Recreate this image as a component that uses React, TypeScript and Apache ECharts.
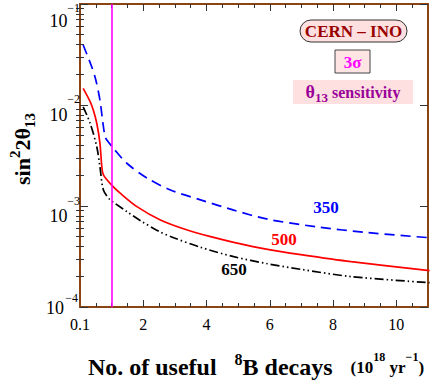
import React, { useEffect, useRef } from "react";
import * as echarts from "echarts";

// ---------- data ----------
const xMajorTicks = [2, 4, 6, 8, 10];
const xLabelValues = [0, 2, 4, 6, 8, 10];
const xFirstLabelText = "0.1";
const xMinorTicks = [0.5, 1, 1.5, 2.5, 3, 3.5, 4.5, 5, 5.5, 6.5, 7, 7.5, 8.5, 9, 9.5, 10.5];

const yLabelValues = [1e-4, 1e-3, 1e-2, 1e-1];
const yLabelBase = "10";
const yLabelExponents = ["−4", "−3", "−2", "−1"];
const yMinorTicks = [
  2e-4, 3e-4, 4e-4, 5e-4, 6e-4, 7e-4, 8e-4, 9e-4,
  2e-3, 3e-3, 4e-3, 5e-3, 6e-3, 7e-3, 8e-3, 9e-3,
  2e-2, 3e-2, 4e-2, 5e-2, 6e-2, 7e-2, 8e-2, 9e-2,
];

const magentaX = 1;

const x350 = [0.1, 0.37, 0.5, 0.63, 0.72, 0.79, 0.85, 1.06, 1.48, 2.12, 2.86, 3.81, 4.86, 5.93, 7.51, 9.1, 11.05];
const y350 = [0.0393, 0.0239, 0.0177, 0.0112, 0.0068, 0.0049, 0.0045, 0.00372, 0.00265, 0.00189, 0.00144, 0.00115, 0.00091, 0.00074, 0.00062, 0.000545, 0.000485];

const x500 = [0.1, 0.32, 0.42, 0.53, 0.63, 0.69, 0.74, 1.0, 1.27, 1.8, 2.54, 3.39, 4.13, 4.86, 5.93, 6.98, 8.57, 11.05];
const y500 = [0.0146, 0.0108, 0.0089, 0.0066, 0.0042, 0.00245, 0.00203, 0.00161, 0.00134, 0.000985, 0.000727, 0.000578, 0.000497, 0.000437, 0.000372, 0.00033, 0.000281, 0.000229];

const x650 = [0.1, 0.32, 0.53, 0.63, 0.74, 0.95, 1.11, 1.48, 1.9, 2.5, 2.96, 3.81, 4.86, 5.93, 6.98, 8.57, 11.05];
const y650 = [0.0096, 0.0066, 0.00386, 0.00245, 0.00144, 0.00115, 0.00106, 0.00088, 0.00072, 0.00056, 0.000485, 0.00039, 0.000315, 0.000268, 0.000236, 0.0002, 0.000174];

const curveNames = ["350", "500", "650"];
const curveColors = ["#0000FF", "#FF0000", "#000000"];

// ---------- styles ----------
const SERIF = "'Liberation Serif', 'DejaVu Serif', serif";
const BROWN = "#8B4513";
const TICK = "#333333";
// placement of the "10" and the exponent relative to each tick (bottom..top)
const tenX = [64, 67.5, 67.5, 67.5];
const expX = [78, 80, 80, 80];
const tenShift = [0.5, 9.5, 9.5, 17];
const expShift = [-9.5, -5.5, -6, 3.5];

function zip(xs: number[], ys: number[]) {
  return xs.map((x, i) => [x, ys[i]]);
}

export default function App() {
  const ref = useRef<HTMLDivElement>(null);
  useEffect(() => {
    if (!ref.current) return;
    const chart = echarts.init(ref.current, null, { renderer: "svg" });

    const axisLineStyle = { show: true, onZero: false, lineStyle: { color: BROWN, width: 2 } };
    const noLine = { show: false };
    const majorX = (pos: string, labels: boolean) => ({
      type: "value",
      min: 0,
      max: 11,
      position: pos,
      axisLine: axisLineStyle,
      axisTick: { show: true, inside: true, length: 7, customValues: xMajorTicks, lineStyle: { color: TICK, width: 1 } },
      axisLabel: labels
        ? {
            show: true,
            customValues: xLabelValues,
            formatter: (v: number) => (v === 0 ? xFirstLabelText : String(v)),
            fontFamily: SERIF,
            fontSize: 16,
            color: "#000",
            margin: 9,
          }
        : { show: false },
      splitLine: { show: false },
    });
    const minorX = (pos: string) => ({
      type: "value",
      min: 0,
      max: 11,
      position: pos,
      axisLine: noLine,
      axisTick: { show: true, inside: true, length: 4, customValues: xMinorTicks, lineStyle: { color: TICK, width: 1 } },
      axisLabel: { show: false },
      splitLine: { show: false },
    });
    const majorY = (pos: string) => ({
      type: "log",
      logBase: 10,
      min: 1e-4,
      max: 1e-1,
      position: pos,
      axisLine: axisLineStyle,
      axisTick: { show: true, inside: true, length: 8, customValues: yLabelValues, lineStyle: { color: TICK, width: 1 } },
      axisLabel: { show: false },
      splitLine: { show: false },
    });
    const minorY = (pos: string) => ({
      type: "log",
      logBase: 10,
      min: 1e-4,
      max: 1e-1,
      position: pos,
      axisLine: noLine,
      axisTick: { show: true, inside: true, length: 4, customValues: yMinorTicks, lineStyle: { color: TICK, width: 1 } },
      axisLabel: { show: false },
      splitLine: { show: false },
    });

    const dashPatterns: any[] = [[10, 6], "solid", [9, 3, 1.5, 3, 1.5, 3]];
    const xs = [x350, x500, x650];
    const ys = [y350, y500, y650];

    const series: any[] = curveNames.map((name, i) => ({
      name,
      type: "line",
      xAxisIndex: 0,
      yAxisIndex: 0,
      data: zip(xs[i], ys[i]),
      showSymbol: false,
      symbol: "none",
      smooth: 0.3,
      lineStyle: { color: curveColors[i], width: 1.7, type: dashPatterns[i] },
      silent: true,
      z: 3,
    }));
    series[1].markLine = {
      silent: true,
      symbol: ["none", "none"],
      label: { show: false },
      lineStyle: { color: "#FF00FF", width: 1.6, type: "solid" },
      data: [{ xAxis: magentaX }],
    };

    chart.setOption({
      animation: false,
      grid: { left: 80, right: 8, top: 4, bottom: 75, containLabel: false },
      xAxis: [majorX("bottom", true), minorX("bottom"), majorX("top", false), minorX("top")],
      yAxis: [majorY("left"), minorY("left"), majorY("right"), minorY("right")],
      series,
    });

    const boldText = (x: number, y: number, text: string, fill: string, size: number) => ({
      type: "text",
      x,
      y,
      z: 10,
      style: { text, fill, fontFamily: SERIF, fontWeight: "bold", fontSize: size, align: "center", verticalAlign: "middle" },
    });

    // y tick labels (10 with superscript exponent), placed through the axis scale
    const yLabelGraphics: any[] = [];
    yLabelValues.forEach((v, i) => {
      const py = chart.convertToPixel({ yAxisIndex: 0 }, v) as number;
      yLabelGraphics.push({
        type: "text",
        x: tenX[i],
        y: py + tenShift[i],
        z: 20,
        style: { text: yLabelBase, fill: "#000", fontFamily: SERIF, fontSize: 18, align: "right", verticalAlign: "middle" },
      });
      yLabelGraphics.push({
        type: "text",
        x: expX[i],
        y: py + expShift[i],
        z: 20,
        style: { text: yLabelExponents[i], fill: "#000", fontFamily: SERIF, fontSize: 12, align: "right", verticalAlign: "middle" },
      });
    });

    chart.setOption({
      graphic: [
        ...yLabelGraphics,
        {
          type: "text",
          x: 22,
          y: 149,
          rotation: Math.PI / 2,
          style: {
            text: "{m|sin}{p|2}{m|2θ}{b|13}",
            align: "center",
            verticalAlign: "middle",
            rich: {
              m: { fontFamily: SERIF, fontWeight: "bold", fontSize: 22, lineHeight: 30, fill: "#000" },
              p: { fontFamily: SERIF, fontWeight: "bold", fontSize: 15, verticalAlign: "top", fill: "#000" },
              b: { fontFamily: SERIF, fontWeight: "bold", fontSize: 15, verticalAlign: "bottom", fill: "#000" },
            },
          },
        },
        {
          type: "text",
          x: 256,
          y: 367,
          style: {
            text: "{t|No. of useful   }{p|8}{t|B decays   }{s|(10}{q|18}{s| yr}{q|−1}{s|)}",
            align: "center",
            verticalAlign: "middle",
            rich: {
              t: { fontFamily: SERIF, fontWeight: "bold", fontSize: 24, lineHeight: 32, fill: "#000" },
              p: { fontFamily: SERIF, fontWeight: "bold", fontSize: 16, verticalAlign: "top", fill: "#000" },
              s: { fontFamily: SERIF, fontWeight: "bold", fontSize: 17, lineHeight: 32, fill: "#000" },
              q: { fontFamily: SERIF, fontWeight: "bold", fontSize: 12, verticalAlign: "top", fill: "#000" },
            },
          },
        },
        {
          type: "rect",
          shape: { x: 300, y: 20, width: 107, height: 22, r: 11 },
          style: { fill: "#FFE0E0", stroke: "#333", lineWidth: 1 },
          z: 9,
        },
        boldText(353.5, 31.5, "CERN – INO", "#990000", 17),
        {
          type: "rect",
          shape: { x: 335, y: 50, width: 35, height: 23 },
          style: { fill: "#FFE4E4", stroke: "#444", lineWidth: 1 },
          z: 9,
        },
        boldText(352.5, 62, "3σ", "#FF00FF", 17),
        {
          type: "rect",
          shape: { x: 293, y: 80, width: 120, height: 24 },
          style: { fill: "#FFE0E0" },
          z: 9,
        },
        {
          type: "text",
          x: 353,
          y: 92,
          z: 10,
          style: {
            text: "{t|θ}{b|13}{s| sensitivity}",
            align: "center",
            verticalAlign: "middle",
            rich: {
              t: { fontFamily: SERIF, fontWeight: "bold", fontSize: 18, lineHeight: 24, fill: "#990099" },
              b: { fontFamily: SERIF, fontWeight: "bold", fontSize: 13, verticalAlign: "bottom", fill: "#990099" },
              s: { fontFamily: SERIF, fontWeight: "bold", fontSize: 16, lineHeight: 24, fill: "#990099" },
            },
          },
        },
        boldText(326, 207, curveNames[0], curveColors[0], 17),
        boldText(284, 239, curveNames[1], curveColors[1], 17),
        boldText(234, 269, curveNames[2], curveColors[2], 17),
      ],
    });
    return () => chart.dispose();
  }, []);
  return <div ref={ref} style={{ width: 436, height: 382, position: "absolute", left: 0, top: 0 }} />;
}
